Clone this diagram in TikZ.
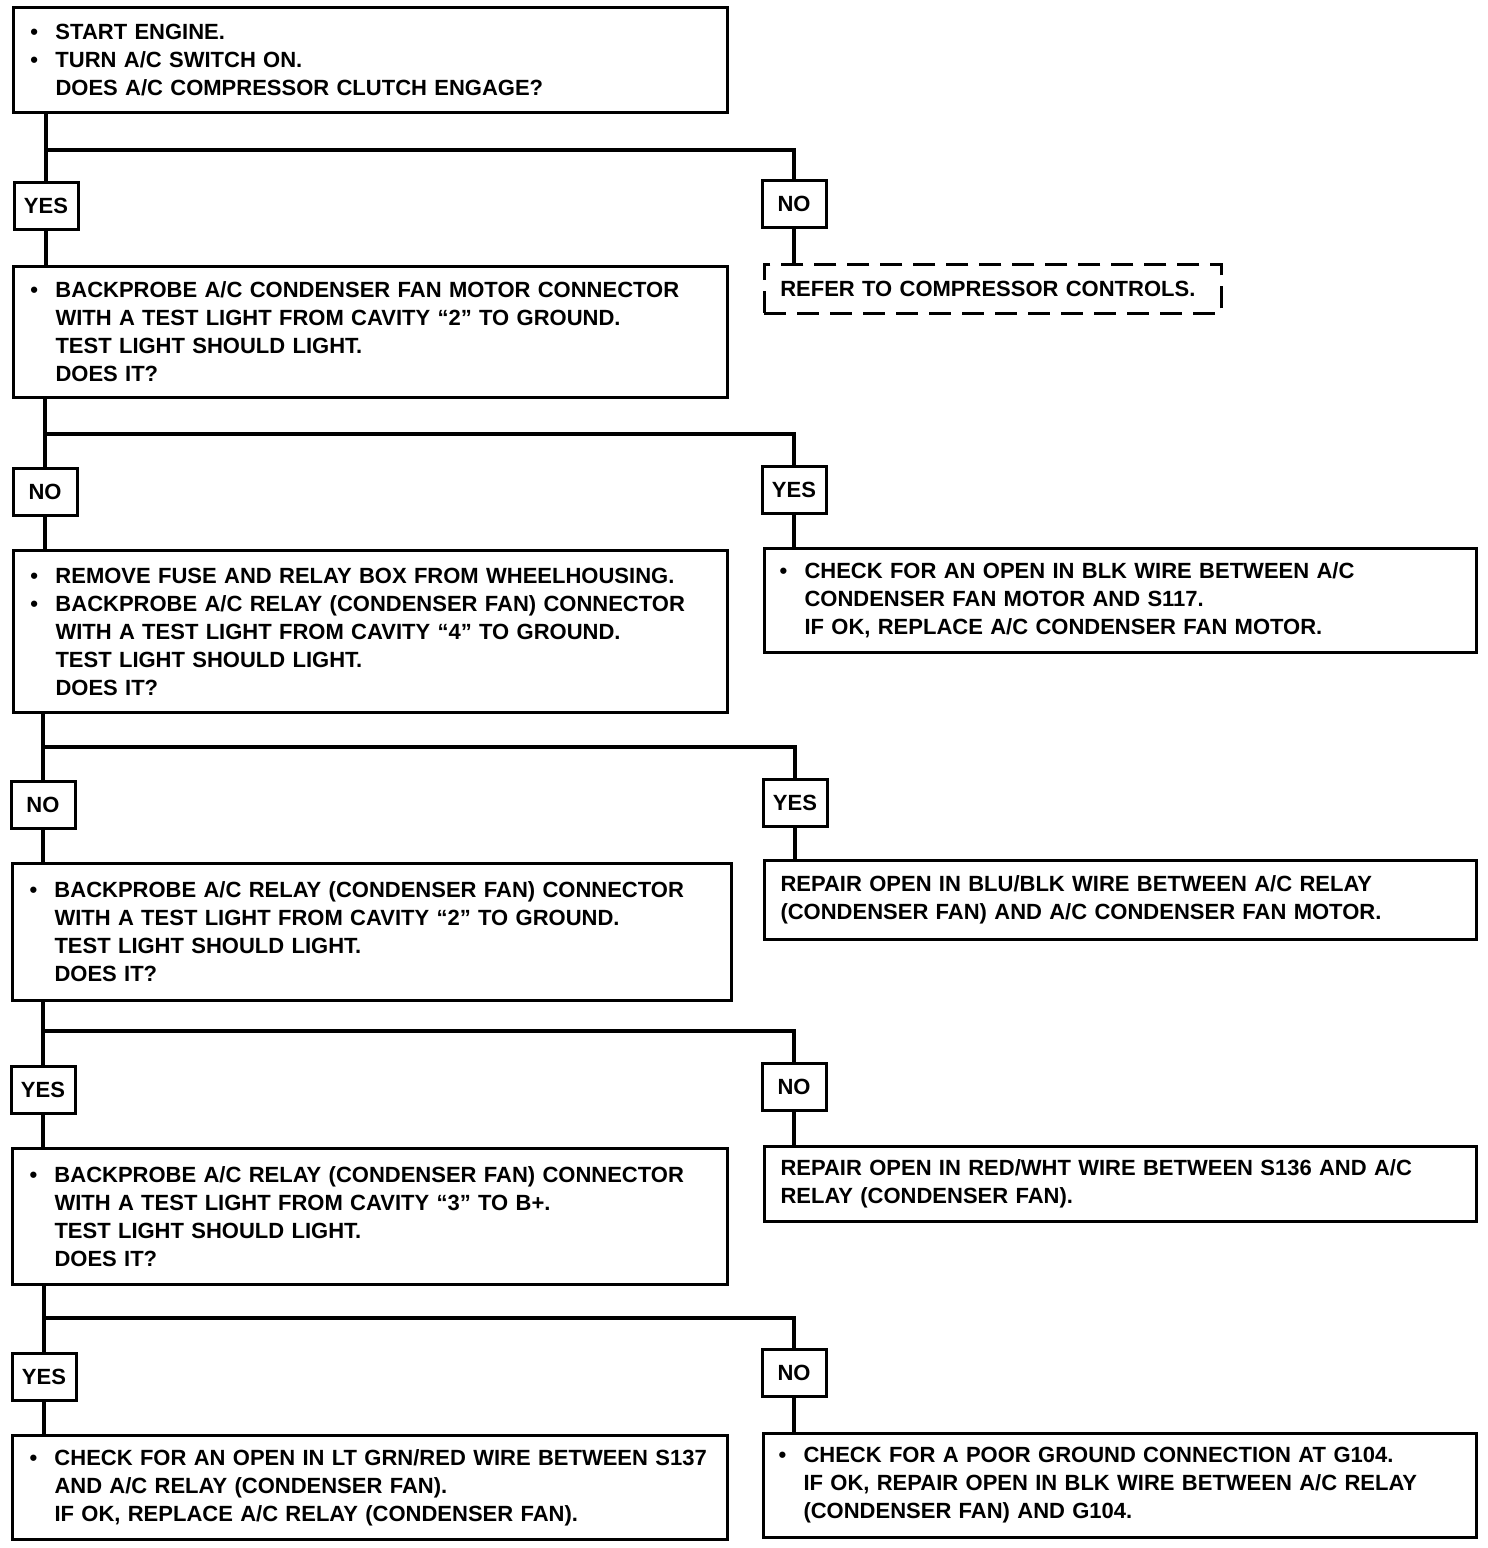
\documentclass[tikz,border=0pt]{standalone}
\usepackage{fontspec}
\setmainfont{Liberation Sans}
\usetikzlibrary{positioning}

\tikzset{
  box/.style={draw, line width=3pt, anchor=north west, align=left,
    inner xsep=17pt, inner ysep=0pt, font=\bfseries\fontsize{22}{28}\selectfont},
  tag/.style={draw, line width=3pt, minimum width=64pt, minimum height=47pt,
    inner sep=0pt, font=\bfseries\fontsize{22}{28}\selectfont},
  wire/.style={line width=4pt},
}
\newcommand\bul{\makebox[25pt][l]{\textbullet}}
\newcommand\ind{\hspace*{25pt}}

\begin{document}
\begin{tikzpicture}[x=1pt, y=-1pt]
    \useasboundingbox (0,0) rectangle (1488,1548);
    % questions (left column)
    \node[box, text width=680pt, minimum height=105pt] (q1) at (12,6)
        {\bul START ENGINE.\\ \bul TURN A/C SWITCH ON.\\ \ind DOES A/C COMPRESSOR CLUTCH ENGAGE?};
    \node[box, text width=680pt, minimum height=131pt] (q2) at (12,265)
        {\bul BACKPROBE A/C CONDENSER FAN MOTOR CONNECTOR\\ \ind WITH A TEST LIGHT FROM CAVITY “2” TO GROUND.\\ \ind TEST LIGHT SHOULD LIGHT.\\ \ind DOES IT?};
    \node[box, text width=680pt, minimum height=162pt] (q3) at (12,549)
        {\bul REMOVE FUSE AND RELAY BOX FROM WHEELHOUSING.\\ \bul BACKPROBE A/C RELAY (CONDENSER FAN) CONNECTOR\\ \ind WITH A TEST LIGHT FROM CAVITY “4” TO GROUND.\\ \ind TEST LIGHT SHOULD LIGHT.\\ \ind DOES IT?};
    \node[box, text width=685pt, minimum height=137pt] (q4) at (11,862)
        {\bul BACKPROBE A/C RELAY (CONDENSER FAN) CONNECTOR\\ \ind WITH A TEST LIGHT FROM CAVITY “2” TO GROUND.\\ \ind TEST LIGHT SHOULD LIGHT.\\ \ind DOES IT?};
    \node[box, text width=681pt, minimum height=136pt] (q5) at (11,1147)
        {\bul BACKPROBE A/C RELAY (CONDENSER FAN) CONNECTOR\\ \ind WITH A TEST LIGHT FROM CAVITY “3” TO B+.\\ \ind TEST LIGHT SHOULD LIGHT.\\ \ind DOES IT?};
    \node[box, text width=681pt, minimum height=104pt] (fix6) at (11,1434)
        {\bul CHECK FOR AN OPEN IN LT GRN/RED WIRE BETWEEN S137\\ \ind AND A/C RELAY (CONDENSER FAN).\\ \ind IF OK, REPLACE A/C RELAY (CONDENSER FAN).};
    % results (right column)
    \node[box, inner xsep=16pt, text width=425pt, minimum height=49pt,
          line width=2.5pt, dash pattern=on 22pt off 11pt] (refer) at (763,263)
        {REFER TO COMPRESSOR CONTROLS.};
    \node[box, inner xsep=15pt, text width=682pt, minimum height=104pt] (fix2) at (763,547)
        {\bul CHECK FOR AN OPEN IN BLK WIRE BETWEEN A/C\\ \ind CONDENSER FAN MOTOR AND S117.\\ \ind IF OK, REPLACE A/C CONDENSER FAN MOTOR.};
    \node[box, inner xsep=16pt, text width=680pt, minimum height=79pt] (fix3) at (763,859)
        {REPAIR OPEN IN BLU/BLK WIRE BETWEEN A/C RELAY\\ (CONDENSER FAN) AND A/C CONDENSER FAN MOTOR.};
    \node[box, inner xsep=16pt, text width=680pt, minimum height=75pt] (fix4) at (763,1145)
        {REPAIR OPEN IN RED/WHT WIRE BETWEEN S136 AND A/C\\ RELAY (CONDENSER FAN).};
    \node[box, inner xsep=15pt, text width=683pt, minimum height=104pt] (fix5) at (762,1432)
        {\bul CHECK FOR A POOR GROUND CONNECTION AT G104.\\ \ind IF OK, REPAIR OPEN IN BLK WIRE BETWEEN A/C RELAY\\ \ind (CONDENSER FAN) AND G104.};
    % answer tags
    \node[tag] (yes1) at (46,206) {YES};
    \node[tag] (no1) at (794,204) {NO};
    \node[tag] (no2) at (45,492) {NO};
    \node[tag] (yes2) at (794,490) {YES};
    \node[tag] (no3) at (43,805) {NO};
    \node[tag] (yes3) at (795,803) {YES};
    \node[tag] (yes4) at (43,1090) {YES};
    \node[tag] (no4) at (794,1087) {NO};
    \node[tag] (yes5) at (44,1377) {YES};
    \node[tag] (no5) at (794,1373) {NO};
    % branch points
    \coordinate (j1) at (0,150);
    \coordinate (j2) at (0,434);
    \coordinate (j3) at (0,747);
    \coordinate (j4) at (0,1031);
    \coordinate (j5) at (0,1318);
    % connectors
    \draw[wire] (q1.south -| yes1) -- (yes1.north) (j1 -| yes1) -| (no1.north);
    \draw[wire] (yes1.south) -- (q2.north -| yes1);
    \draw[wire] (no1.south) -- (refer.north -| no1);
    \draw[wire] (q2.south -| no2) -- (no2.north) (j2 -| no2) -| (yes2.north);
    \draw[wire] (no2.south) -- (q3.north -| no2);
    \draw[wire] (yes2.south) -- (fix2.north -| yes2);
    \draw[wire] (q3.south -| no3) -- (no3.north) (j3 -| no3) -| (yes3.north);
    \draw[wire] (no3.south) -- (q4.north -| no3);
    \draw[wire] (yes3.south) -- (fix3.north -| yes3);
    \draw[wire] (q4.south -| yes4) -- (yes4.north) (j4 -| yes4) -| (no4.north);
    \draw[wire] (yes4.south) -- (q5.north -| yes4);
    \draw[wire] (no4.south) -- (fix4.north -| no4);
    \draw[wire] (q5.south -| yes5) -- (yes5.north) (j5 -| yes5) -| (no5.north);
    \draw[wire] (yes5.south) -- (fix6.north -| yes5);
    \draw[wire] (no5.south) -- (fix5.north -| no5);
\end{tikzpicture}
\end{document}
